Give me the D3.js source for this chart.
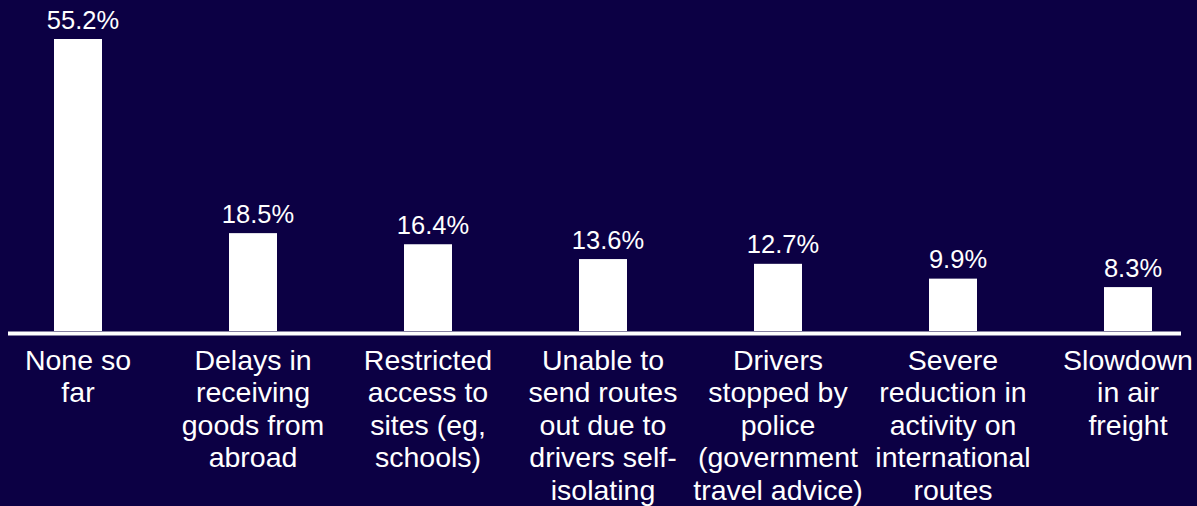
<!DOCTYPE html>
<html>
<head>
<meta charset="utf-8">
<script src="https://cdn.jsdelivr.net/npm/d3@7"></script>
<style>
  html, body { margin: 0; padding: 0; background: #0c0044; }
  svg { display: block; }
</style>
</head>
<body>
<svg id="chart" width="1197" height="506"></svg>
<script>
// data
const categories = [
  ['None so', 'far'],
  ['Delays in', 'receiving', 'goods from', 'abroad'],
  ['Restricted', 'access to', 'sites (eg,', 'schools)'],
  ['Unable to', 'send routes', 'out due to', 'drivers self-', 'isolating'],
  ['Drivers', 'stopped by', 'police', '(government', 'travel advice)'],
  ['Severe', 'reduction in', 'activity on', 'international', 'routes'],
  ['Slowdown', 'in air', 'freight']
]
const values = [55.2, 18.5, 16.4, 13.6, 12.7, 9.9, 8.3]
const valueLabels = ['55.2%', '18.5%', '16.4%', '13.6%', '12.7%', '9.9%', '8.3%']

const svg = d3.select('#chart')
const width = +svg.attr('width')
const height = +svg.attr('height')
const bg = '#0c0044'
const fg = '#ffffff'
const font = '"Liberation Sans", Arial, sans-serif'

const baseY = 331
const barWidth = 48

svg.append('rect')
  .attr('width', width)
  .attr('height', height)
  .attr('fill', bg)

const keys = categories.map((d, i) => i)

// centres of the bars
const xScale = d3.scalePoint()
  .domain(keys)
  .range([78, 1128])

const yScale = d3.scaleLinear()
  .domain([0, d3.max(values)])
  .range([baseY, 39])

// bars
svg.selectAll('rect.bar')
  .data(values)
  .enter()
  .append('rect')
  .attr('class', 'bar')
  .attr('x', (d, i) => xScale(i) - barWidth / 2)
  .attr('y', d => yScale(d))
  .attr('width', barWidth)
  .attr('height', d => baseY - yScale(d))
  .attr('fill', fg)

// baseline
svg.append('line')
  .attr('x1', 8)
  .attr('x2', 1181)
  .attr('y1', baseY + 2.5)
  .attr('y2', baseY + 2.5)
  .attr('stroke', fg)
  .attr('stroke-width', 4)

// value labels (sit a little right of the bar centre, like the original)
svg.selectAll('text.value')
  .data(values)
  .enter()
  .append('text')
  .attr('class', 'value')
  .attr('x', (d, i) => xScale(i) + 5)
  .attr('y', d => yScale(d) - 10.5)
  .attr('text-anchor', 'middle')
  .attr('fill', fg)
  .style('font-family', font)
  .style('font-size', '25.5px')
  .text((d, i) => valueLabels[i])

// category labels
const cat = svg.selectAll('text.cat')
  .data(categories)
  .enter()
  .append('text')
  .attr('class', 'cat')
  .attr('text-anchor', 'middle')
  .attr('fill', fg)
  .style('font-family', font)
  .style('font-size', '28.5px')

cat.selectAll('tspan')
  .data((d, i) => d.map(line => ({ line, i })))
  .enter()
  .append('tspan')
  .attr('x', d => xScale(d.i))
  .attr('y', (d, j) => 370 + j * 32.4)
  .text(d => d.line)
</script>
</body>
</html>
